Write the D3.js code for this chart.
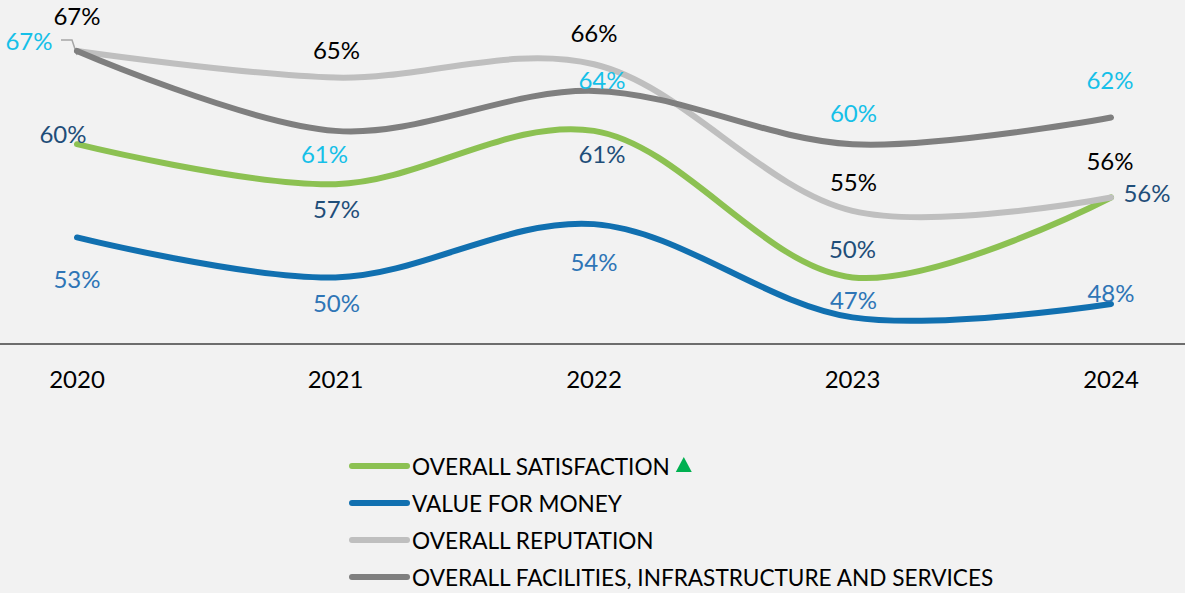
<!DOCTYPE html>
<html>
<head>
<meta charset="utf-8">
<script src="https://cdn.jsdelivr.net/npm/d3@7"></script>
<style>
  html, body { margin: 0; padding: 0; background: #f2f2f2; }
  svg { display: block; font-family: Lato, "Noto Sans", sans-serif; }
</style>
</head>
<body>
<script>
const WIDTH = 1185;
const HEIGHT = 593;

// datos
const years = ["2020", "2021", "2022", "2023", "2024"];
const satisfaction = [60, 57, 61, 50, 56];
const valueForMoney = [53, 50, 54, 47, 48];
const reputation = [67, 65, 66, 55, 56];
const facilities = [67, 61, 64, 60, 62];

const seriesNames = [
  "OVERALL SATISFACTION",
  "VALUE FOR MONEY",
  "OVERALL REPUTATION",
  "OVERALL FACILITIES, INFRASTRUCTURE AND SERVICES"
];

// estilos de cada serie (linea y etiqueta)
const estilos = [
  { color: "#8cc152", label: "#1f4e79" },
  { color: "#1170b0", label: "#2e75b6" },
  { color: "#bfbfbf", label: "#000000" },
  { color: "#7f7f7f", label: "#16c0e8" }
];

// desplazamiento de cada etiqueta respecto al punto [dx, dy]
const offsets = [
  [[-14, -11], [1, 24], [8, 23], [0, -29], [36, -5]],
  [[0, 41], [1, 25], [0, 37], [1, -18], [0, -12]],
  [[0, -35], [1, -28], [0, -32], [1, -29], [-1, -37]],
  [[-48, -10], [-11, 23], [8, -11], [1, -32], [-1, -38]]
];

const series = [satisfaction, valueForMoney, reputation, facilities].map((values, i) => ({
  name: seriesNames[i],
  values: values.map((v, j) => ({ year: years[j], value: v })),
  ...estilos[i]
}));

const SVG = d3
  .select("body")
  .append("svg")
  .attr("width", WIDTH)
  .attr("height", HEIGHT);

const x = d3.scalePoint().domain(years).range([77, 1111]);
const y = d3.scaleLinear().domain([45, 70]).range([344, 11]);

// eje x
SVG.append("line")
  .attr("x1", 0)
  .attr("x2", WIDTH)
  .attr("y1", y(45))
  .attr("y2", y(45))
  .attr("stroke", "#404040")
  .attr("stroke-width", 1.5);

SVG.append("g")
  .selectAll("text")
  .data(years)
  .join("text")
  .attr("x", (d) => x(d))
  .attr("y", 378)
  .attr("text-anchor", "middle")
  .attr("dominant-baseline", "central")
  .attr("font-size", 24)
  .attr("fill", "#000")
  .text((d) => d);

const linea = d3
  .line()
  .x((d) => x(d.year))
  .y((d) => y(d.value))
  .curve(d3.curveCatmullRom);

// linea guia de la etiqueta de 2020 (instalaciones)
const p0 = { x: x(years[0]), y: y(facilities[0]) };
SVG.append("path")
  .attr("d", d3.line()([[p0.x - 16, p0.y - 11], [p0.x - 5, p0.y - 11], [p0.x, p0.y + 4]]))
  .attr("fill", "none")
  .attr("stroke", "#a6a6a6")
  .attr("stroke-width", 1.5);

SVG.append("g")
  .selectAll("path")
  .data(series)
  .join("path")
  .attr("d", (d) => linea(d.values))
  .attr("fill", "none")
  .attr("stroke", (d) => d.color)
  .attr("stroke-width", 6)
  .attr("stroke-linecap", "round");

// etiquetas de datos
series.forEach((s, i) => {
  SVG.append("g")
    .selectAll("text")
    .data(s.values)
    .join("text")
    .attr("x", (d, j) => x(d.year) + offsets[i][j][0])
    .attr("y", (d, j) => y(d.value) + offsets[i][j][1])
    .attr("text-anchor", "middle")
    .attr("dominant-baseline", "central")
    .attr("font-size", 24)
    .attr("fill", s.label)
    .text((d) => d.value + "%");
});

// leyenda
const leyenda = SVG.append("g")
  .selectAll("g")
  .data(series)
  .join("g")
  .attr("transform", (d, i) => `translate(352, ${466 + i * 37})`);

leyenda.append("line")
  .attr("x1", 0)
  .attr("x2", 55)
  .attr("stroke", (d) => d.color)
  .attr("stroke-width", 6)
  .attr("stroke-linecap", "round");

const textos = leyenda.append("text")
  .attr("x", 60)
  .attr("dominant-baseline", "central")
  .attr("font-size", 22.6)
  .attr("fill", "#000")
  .text((d) => d.name);

// triangulo verde junto a la satisfaccion
const anchoTexto = textos.filter((d, i) => i === 0).node().getComputedTextLength();
leyenda.filter((d, i) => i === 0)
  .append("path")
  .attr("d", "M0,-8 L8,7 L-8,7 Z")
  .attr("transform", `translate(${60 + anchoTexto + 14}, -1)`)
  .attr("fill", "#00b050");
</script>
</body>
</html>
